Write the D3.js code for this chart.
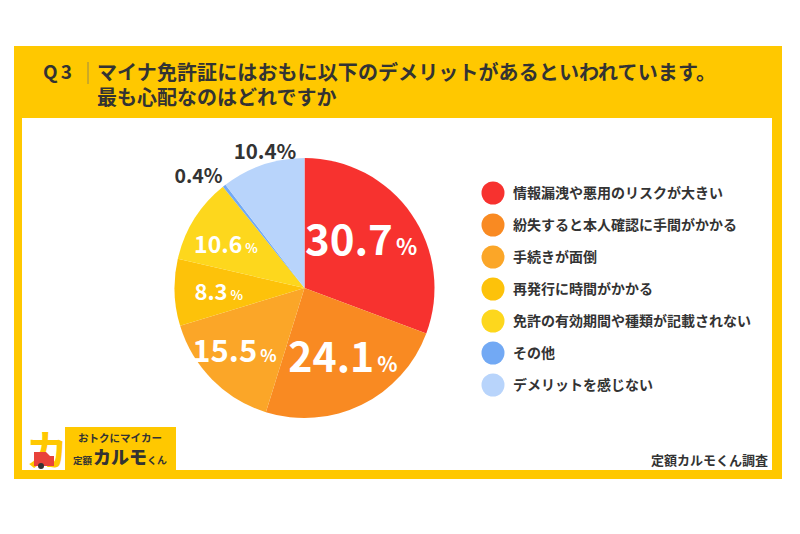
<!DOCTYPE html>
<html>
<head>
<meta charset="utf-8">
<script src="https://cdn.jsdelivr.net/npm/d3@7/dist/d3.min.js"></script>
<style>
  body { margin: 0; background: #fff; }
  svg { display: block; font-family: "Noto Sans CJK JP", "Noto Sans", sans-serif; }
</style>
</head>
<body>
<svg id="chart" width="800" height="534"></svg>
<script>
// data
var categories = [
  '情報漏洩や悪用のリスクが大きい',
  '紛失すると本人確認に手間がかかる',
  '手続きが面倒',
  '再発行に時間がかかる',
  '免許の有効期間や種類が記載されない',
  'その他',
  'デメリットを感じない'
];
var values = [30.7, 24.1, 15.5, 8.3, 10.6, 0.4, 10.4];
var titleLines = ['マイナ免許証にはおもに以下のデメリットがあるといわれています。', '最も心配なのはどれですか'];

// look
var colors = ['#f7322f', '#f98a22', '#fba628', '#fdc20a', '#fdd71d', '#72a9f4', '#b8d4fb'];
// label placement: radius factor + nudge, number size, % size, inside?
var labelStyle = [
  {k: 0.57, dx: -4.4, dy: -5.8, fs: 42, ps: 22, inside: true},
  {k: 0.61, dx: 3.5, dy: -1.9, fs: 41, ps: 21, inside: true},
  {k: 0.725, dx: -3.2, dy: -3.4, fs: 31, ps: 17, inside: true},
  {k: 0.66, dx: 0, dy: 1.5, fs: 22, ps: 13, inside: true},
  {k: 0.69, dx: -2.5, dy: 4.4, fs: 23, ps: 13, inside: true},
  {k: 1.19, dx: -10.4, dy: 9.6, fs: 19.5, ps: 19.5, inside: false},
  {k: 1.09, dx: 6, dy: -1.8, fs: 20.5, ps: 20.5, inside: false}
];

var yellow = '#ffc800';
var svg = d3.select('#chart');

// frame
svg.append('rect').attr('x', 14).attr('y', 46).attr('width', 768).attr('height', 433).attr('fill', yellow);
svg.append('rect').attr('x', 22).attr('y', 118).attr('width', 750).attr('height', 352).attr('fill', '#fff');

// title
svg.append('text').attr('x', 43).attr('y', 79).attr('font-size', 19).attr('font-weight', 'bold')
  .attr('fill', '#333').attr('letter-spacing', 3).text('Q3');
svg.append('line').attr('x1', 88).attr('x2', 88).attr('y1', 62).attr('y2', 84)
  .attr('stroke', '#9a8a4a').attr('stroke-width', 1);
svg.selectAll('.title').data(titleLines).enter().append('text')
  .attr('class', 'title')
  .attr('x', 97).attr('y', function(d, i){ return 80 + i * 25; })
  .attr('font-size', 20).attr('font-weight', 'bold').attr('fill', '#333')
  .attr('textLength', function(d, i){ return i === 0 ? 619 : null; })
  .text(function(d){ return d; });

// pie
var cx = 304.5, cy = 288, R = 130;
var pie = d3.pie().sort(null).value(function(d){ return d; });
var arcs = pie(values);
var arc = d3.arc().innerRadius(0).outerRadius(R);
var g = svg.append('g').attr('transform', 'translate(' + cx + ',' + cy + ')');
g.selectAll('path').data(arcs).enter().append('path')
  .attr('d', arc)
  .attr('fill', function(d, i){ return colors[i]; });

var labels = g.selectAll('.lbl').data(arcs).enter().append('text')
  .attr('class', 'lbl')
  .attr('transform', function(d, i){
    var s = labelStyle[i];
    var c = d3.arc().innerRadius(R * s.k).outerRadius(R * s.k).centroid(d);
    return 'translate(' + (c[0] + s.dx) + ',' + (c[1] + s.dy + s.fs * 0.357) + ')';
  })
  .attr('text-anchor', 'middle')
  .attr('font-weight', 'bold')
  .attr('fill', function(d, i){ return labelStyle[i].inside ? '#fff' : '#333'; });
labels.append('tspan')
  .attr('font-size', function(d, i){ return labelStyle[i].fs; })
  .text(function(d, i){ return values[i].toFixed(1); });
labels.append('tspan')
  .attr('font-size', function(d, i){ return labelStyle[i].ps; })
  .attr('dx', function(d, i){ return labelStyle[i].inside ? 3 : 0; })
  .text('%');

// legend
var ly = d3.scalePoint().domain(d3.range(categories.length)).range([193, 385]);
var legend = svg.selectAll('.leg').data(categories).enter().append('g')
  .attr('class', 'leg')
  .attr('transform', function(d, i){ return 'translate(493,' + ly(i) + ')'; });
legend.append('circle').attr('r', 11.5).attr('fill', function(d, i){ return colors[i]; });
legend.append('text').attr('x', 20).attr('dy', '0.36em')
  .attr('font-size', 14).attr('font-weight', 'bold').attr('fill', '#333')
  .text(function(d){ return d; });

// footer
svg.append('text').attr('x', 768).attr('y', 465).attr('text-anchor', 'end')
  .attr('font-size', 13).attr('font-weight', 'bold').attr('fill', '#333').text('定額カルモくん調査');

// logo
var logo = svg.append('g');
logo.append('rect').attr('x', 65).attr('y', 427).attr('width', 111).attr('height', 46).attr('fill', yellow);
logo.append('text').attr('x', 26).attr('y', 466).attr('font-size', 42).attr('font-weight', 'bold')
  .attr('fill', yellow).text('カ');
logo.append('path').attr('d', 'M34,452 L46,452 L50,456 L54,456 L54,466 L34,466 Z').attr('fill', '#e8423a');
logo.append('circle').attr('cx', 41).attr('cy', 466).attr('r', 3).attr('fill', '#333');
logo.append('text').attr('x', 120).attr('y', 442).attr('text-anchor', 'middle')
  .attr('font-size', 10.5).attr('font-weight', 'bold').attr('fill', '#333').text('おトクにマイカー');
var brand = logo.append('text').attr('x', 73).attr('y', 464).attr('font-weight', 'bold').attr('fill', '#333');
brand.append('tspan').attr('font-size', 9.5).text('定額');
brand.append('tspan').attr('font-size', 18).attr('dx', 1).attr('font-weight', 900).text('カルモ');
brand.append('tspan').attr('font-size', 10).text('くん');
</script>
</body>
</html>
